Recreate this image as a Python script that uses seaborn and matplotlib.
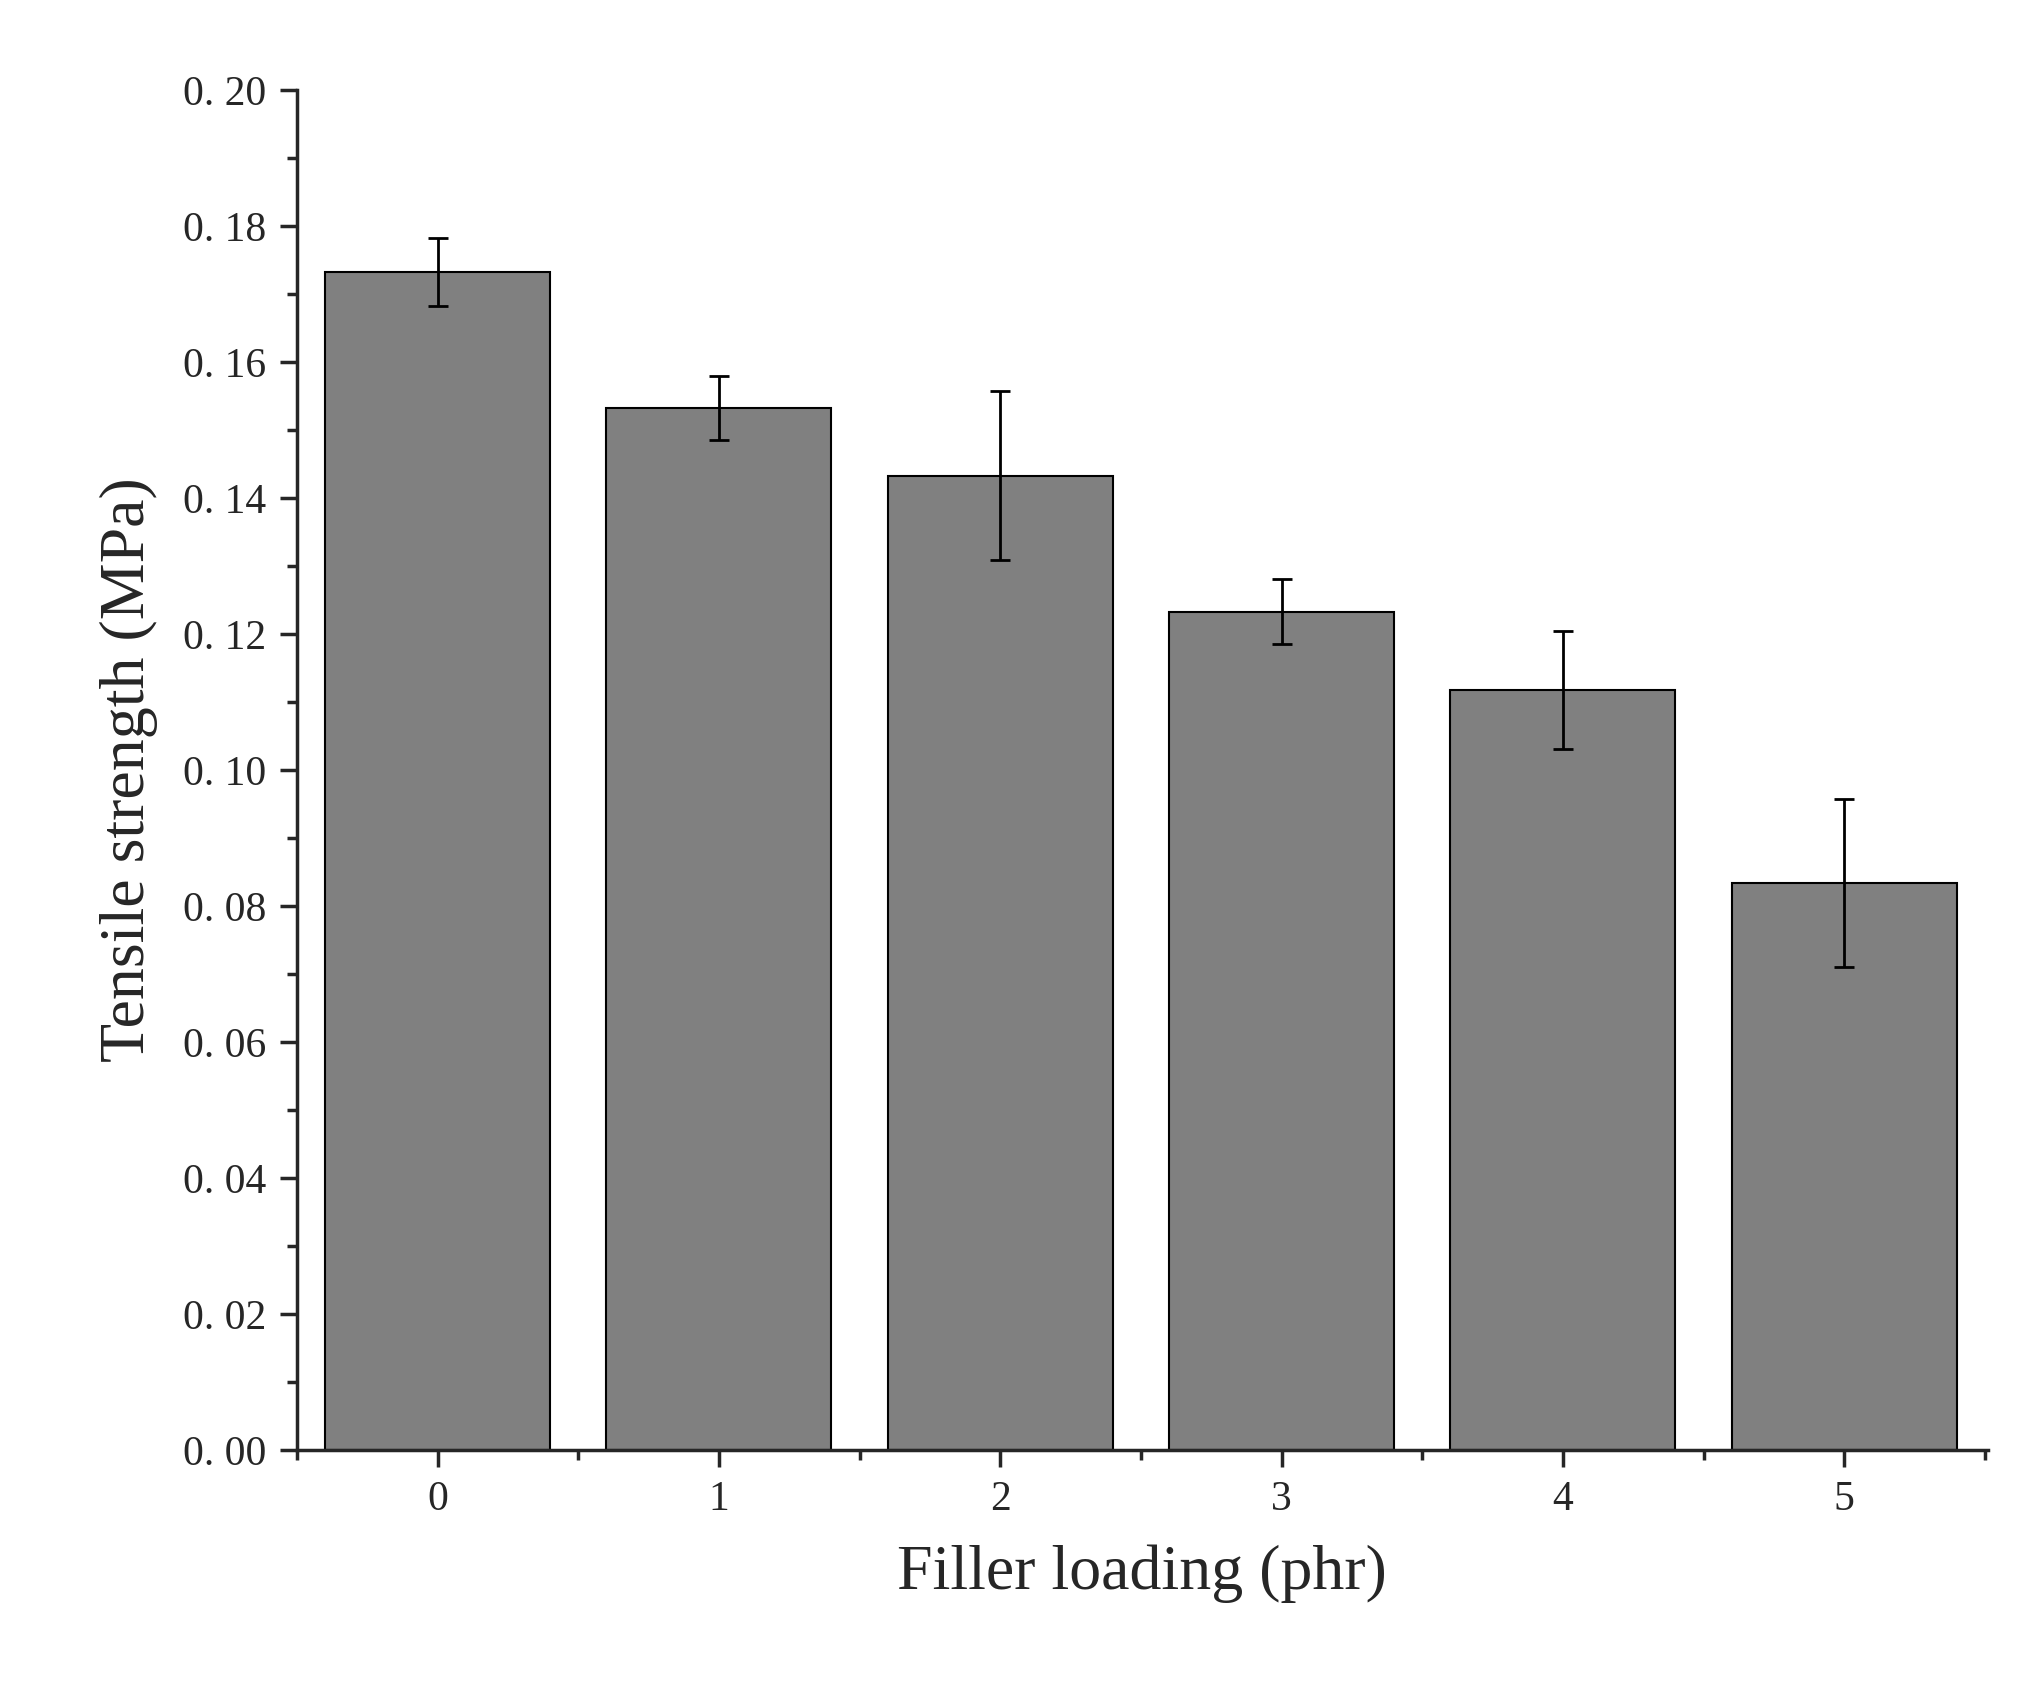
import numpy as np
import pandas as pd
import seaborn as sns
import matplotlib.pyplot as plt
from matplotlib.ticker import MultipleLocator, FixedLocator

loading = ["0", "1", "2", "3", "4", "5"]
strength = [0.1733, 0.1532, 0.1433, 0.1233, 0.1118, 0.0834]
error = [0.0050, 0.0047, 0.0124, 0.0048, 0.0087, 0.0123]
ytick_labels = ["0. 00", "0. 02", "0. 04", "0. 06", "0. 08", "0. 10",
                "0. 12", "0. 14", "0. 16", "0. 18", "0. 20"]

sns.set_style("ticks")
plt.rcParams["font.family"] = ["Liberation Serif", "DejaVu Serif"]

df = pd.DataFrame({"loading": loading, "strength": strength})

fig = plt.figure(figsize=(20.2, 17), dpi=100)
ax = fig.add_axes([0.147, 0.147, 0.837, 0.8])
sns.barplot(data=df, x="loading", y="strength", color="#808080",
            saturation=1, width=0.8, edgecolor="black", linewidth=1.5, ax=ax)
ax.errorbar(np.arange(len(loading)), strength, yerr=error, fmt="none",
            ecolor="black", elinewidth=2, capsize=7, capthick=2)

ax.set_xlim(-0.5, 5.51)
ax.set_ylim(0, 0.2)
ax.set_yticks(np.arange(0, 0.201, 0.02))
ax.set_yticklabels(ytick_labels)
ax.yaxis.set_minor_locator(MultipleLocator(0.01))
ax.xaxis.set_minor_locator(FixedLocator(np.arange(-0.5, 5.6, 1)))
ax.tick_params(which="major", length=12, width=2.5, labelsize=30,
               direction="out", pad=10)
ax.tick_params(which="minor", length=7, width=2.5, direction="out")
for s in ["left", "bottom"]:
    ax.spines[s].set_linewidth(2.5)
sns.despine(ax=ax)

ax.set_xlabel("Filler loading (phr)", fontsize=46, labelpad=18)
ax.set_ylabel("Tensile strength (MPa)", fontsize=46, labelpad=18)

fig.savefig("out.png", dpi=100)
